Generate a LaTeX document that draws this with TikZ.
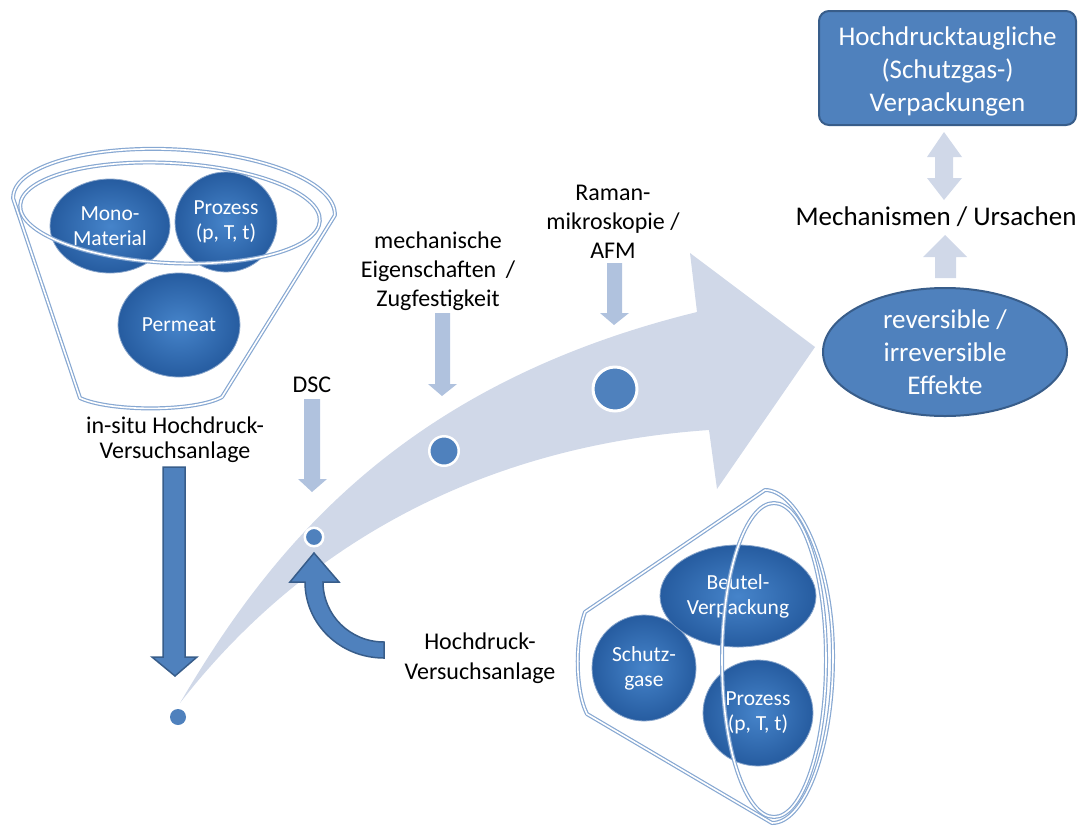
\documentclass[tikz,border=0pt]{standalone}
\usepackage{fontspec}
\setmainfont{Carlito}
\usetikzlibrary{shapes.geometric}
\definecolor{mblue}{RGB}{79,129,189}
\definecolor{dblue}{RGB}{56,93,138}
\definecolor{bandc}{RGB}{208,216,232}
\definecolor{larrc}{RGB}{176,194,222}
\definecolor{ballin}{RGB}{70,132,202}
\definecolor{ballout}{RGB}{38,92,160}
\definecolor{ringc}{RGB}{135,168,210}
\begin{document}
\begin{tikzpicture}[x=1pt,y=-1pt,
  lbl/.style={font=\fontsize{24}{28}\selectfont, align=center, inner sep=0pt},
  bigtxt/.style={font=\fontsize{27}{33}\selectfont, align=center, inner sep=0pt},
  ballnode/.style={ellipse, inner sep=0pt, inner color=ballin, outer color=ballout, draw=ballout!55!white, line width=0.8pt, text=white, font=\fontsize{21.5}{25}\selectfont, align=center},
  ringline/.style={draw=ringc, line width=1.2pt, double=white, double distance=1.6pt, line join=round},
  dotnode/.style={circle, fill=mblue, draw=white, inner sep=0pt},
  lightarr/.style={fill=larrc},
  bandarr/.style={fill=bandc},
  bluearr/.style={fill=mblue, draw=dblue, line width=1.5pt, line join=miter},
]
\useasboundingbox (0,0) rectangle (1083,825);

% big curved band arrow
\fill[bandarr] (180,703) .. controls (270,550) and (400,385) .. (697,312) -- (690,253) -- (815,347) -- (717,489) -- (709,430) .. controls (420,450) and (260,600) .. (180,703) -- cycle;

% dots on the band
\node[dotnode, line width=2.5pt, minimum size=18.5pt] (d1) at (314,537) {};
\node[dotnode, line width=2.5pt, minimum size=29.5pt] (d2) at (444,451) {};
\node[dotnode, line width=3pt, minimum size=44pt] (d3) at (615,389) {};
\node[dotnode, draw=none, minimum size=16pt] (d0) at (178,717) {};

% light down arrows
\fill[lightarr] (304,399) -- (320,399) -- (320,479) -- (327,479) -- (312,492) -- (298,479) -- (304,479) -- cycle;
\fill[lightarr] (435,313) -- (450,313) -- (450,384) -- (457,384) -- (442,396) -- (428,384) -- (435,384) -- cycle;
\fill[lightarr] (607,263) -- (622,263) -- (622,313) -- (629,313) -- (614,325) -- (600,313) -- (607,313) -- cycle;

% blue arrows
\draw[bluearr] (163,467) -- (185,467) -- (185,657) -- (197,657) -- (175,676) -- (152,657) -- (163,657) -- cycle;
\draw[bluearr] (384,658) .. controls (340,658) and (305,624) .. (305,582) -- (290,582) -- (314,553) -- (339,582) -- (323,582) .. controls (323,615) and (350,642) .. (384,642) -- cycle;

% left funnel
\node[ballnode, minimum width=120pt, minimum height=94pt] (mono) at (110,226) {Mono-\\Material};
\node[ballnode, minimum width=102pt, minimum height=100pt] (proz1) at (226,222) {Prozess\\(p, T, t)};
\node[ballnode, minimum width=122pt, minimum height=104pt] (perm) at (179,325) {Permeat};
\draw[ringline] (13.2,198.6) .. controls (11.5,166.6) and (88,144.8) .. (177,149.5) .. controls (266,154.2) and (336.5,183.4) .. (334.8,215.4) -- (222,397) .. controls (195,412) and (110,412) .. (80,398) -- cycle;
\draw[ringline, rotate around={-3:(170,213)}] (170,213) ellipse[x radius=150, y radius=50];

% right funnel
\node[ballnode, minimum width=104pt, minimum height=106pt] (schutz) at (644,668) {Schutz-\\gase};
\node[ballnode, minimum width=156pt, minimum height=102pt] (beutel) at (738,596) {Beutel-\\Verpackung};
\node[ballnode, minimum width=110pt, minimum height=106pt] (proz2) at (758,713) {Prozess\\(p, T, t)};
\draw[ringline] (585,612) -- (765,490) .. controls (798,490) and (833,564) .. (833,656) .. controls (833,748) and (805,823) .. (772,823) -- (587,714) .. controls (575,690) and (575,640) .. (585,612) -- cycle;
\draw[ringline] (774,660) ellipse[x radius=52, y radius=157];

% labels
\node[lbl, font=\fontsize{24}{25}\selectfont] (insitu) at (175,440) {in-situ Hochdruck-\\Versuchsanlage};
\node[lbl] (dsc) at (312,385) {DSC};
\node[lbl, font=\fontsize{24}{29}\selectfont] (mech) at (438,271) {mechanische\\Eigenschaften\hspace{0.4em}/\\Zugfestigkeit};
\node[lbl, font=\fontsize{24}{29}\selectfont] (raman) at (613,222) {Raman-\\mikroskopie /\\AFM};
\node[lbl, font=\fontsize{24}{30}\selectfont] (hdv) at (480,658) {Hochdruck-\\Versuchsanlage};

% right column
\node[draw=dblue, fill=mblue, rounded corners=10pt, line width=2pt, minimum width=257pt, minimum height=114pt] (box) at (947.5,68) {};
\node[bigtxt, text=white] (boxtext) at (947.5,71) {Hochdrucktaugliche\\(Schutzgas-)\\Verpackungen};
\fill[bandarr] (944,132) -- (962,157) -- (953,157) -- (953,178) -- (962,178) -- (944,200) -- (927,178) -- (935,178) -- (935,157) -- (927,157) -- cycle;
\node[bigtxt] (mechur) at (936,217) {Mechanismen / Ursachen};
\fill[bandarr] (945,235) -- (967,257) -- (956,257) -- (956,278) -- (935,278) -- (935,257) -- (923,257) -- cycle;
\node[bigtxt, ellipse, draw=dblue, fill=mblue, line width=2pt, minimum width=244pt, minimum height=128pt, text=white] (eff) at (945,352) {reversible /\\irreversible\\Effekte};
\end{tikzpicture}
\end{document}
